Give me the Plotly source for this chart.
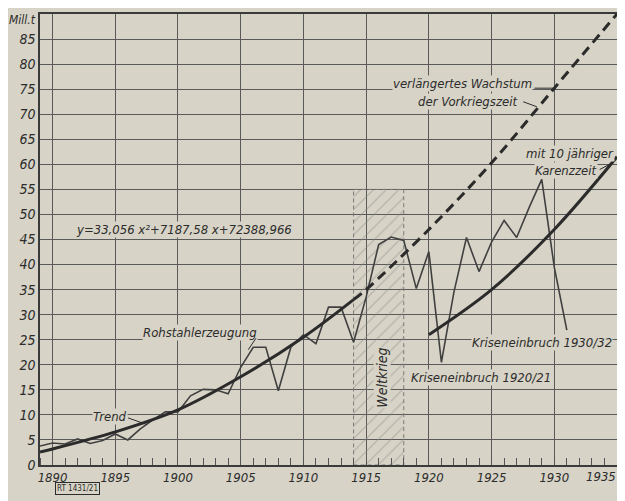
import plotly.graph_objects as go

# ---------------- data ----------------
years = list(range(1889, 1932))
steel = [3.8, 4.4, 4.2, 5.2, 4.3, 4.9, 6.2, 5.0, 7.2, 9.0,
         10.6, 10.6, 13.8, 15.1, 15.0, 14.2, 19.5, 23.5, 23.5, 14.8,
         23.5, 26.0, 24.2, 31.5, 31.5, 24.5, 33.5, 44.0, 45.5, 44.8,
         35.2, 42.6, 20.5, 34.5, 45.4, 38.6, 44.5, 48.8, 45.4, 51.4,
         57.0, 39.5, 26.9]

trend_years = [1889, 1890, 1895, 1900, 1905, 1910, 1914]
trend_vals = [2.6, 3.2, 6.6, 11.0, 17.6, 25.5, 33.0]

ext_years = [1914, 1915, 1920, 1925, 1930, 1935]
ext_vals = [33.0, 35.0, 47.0, 60.3, 75.2, 90.0]

karenz_years = [1920, 1925, 1930, 1935]
karenz_vals = [26.0, 35.0, 47.0, 61.5]

war_start, war_end, war_top = 1914, 1918, 55

x_ticks = list(range(1890, 1936, 5))
y_ticks = list(range(0, 90, 5))

# ---------------- style ----------------
BG = "#d7d3c6"
INK = "#2c2c2c"
GRID = "#5a5a5a"
FONT = "DejaVu Sans Condensed, DejaVu Sans, sans-serif"

fig = go.Figure()

# Weltkrieg hatched box
fig.add_trace(go.Scatter(
    x=[war_start, war_end, war_end, war_start, war_start],
    y=[0, 0, war_top, war_top, 0],
    mode="lines", fill="toself",
    fillcolor="rgba(0,0,0,0)",
    fillpattern=dict(shape="/", fgcolor="#858585", bgcolor="rgba(0,0,0,0)",
                     size=9, solidity=0.12),
    line=dict(color="#7a7a7a", width=1, dash="4px,3px"),
    hoverinfo="skip", showlegend=False))

# steel production
fig.add_trace(go.Scatter(x=years, y=steel, mode="lines",
                         line=dict(color="#404040", width=1.6),
                         showlegend=False))

# trend (solid)
fig.add_trace(go.Scatter(x=trend_years, y=trend_vals, mode="lines",
                         line=dict(color="#2b2b2b", width=3, shape="spline"),
                         showlegend=False))
# extended trend (dashed)
fig.add_trace(go.Scatter(x=ext_years, y=ext_vals, mode="lines",
                         line=dict(color="#2b2b2b", width=3, shape="spline",
                                   dash="10px,6px"),
                         showlegend=False))
# with 10-year lag
fig.add_trace(go.Scatter(x=karenz_years, y=karenz_vals, mode="lines",
                         line=dict(color="#2b2b2b", width=3, shape="spline"),
                         showlegend=False))

tf = dict(family=FONT, size=13, color=INK)


def note(text, x, y, xanchor="center", size=13, angle=0):
    fig.add_annotation(text="<i>%s</i>" % text, x=x, y=y, xref="x", yref="y",
                       font=dict(tf, size=size), bgcolor=BG, borderpad=0,
                       textangle=angle, xanchor=xanchor, yanchor="middle",
                       showarrow=False)


def leader(x0, y0, x1, y1):
    fig.add_annotation(text="", x=x1, y=y1, ax=x0, ay=y0, xref="x", yref="y",
                       axref="x", ayref="y", showarrow=True, arrowhead=0,
                       arrowwidth=1, arrowcolor=INK, standoff=0, startstandoff=0)


note("verlängertes Wachstum", 1928.3, 76.2, xanchor="right")
leader(1928.3, 75.2, 1929.9, 75.2)
note("der Vorkriegszeit", 1927.1, 72.5, xanchor="right")
leader(1927.4, 72.6, 1928.6, 71.5)
note("mit 10 jähriger", 1934.85, 62.2, xanchor="right")
note("Karenzzeit", 1933.5, 58.8, xanchor="right")
leader(1933.5, 58.8, 1934.4, 60.0)
note("y=33,056 x²+7187,58 x+72388,966", 1891.8, 47.0, xanchor="left")
note("Rohstahlerzeugung", 1897.1, 26.5, xanchor="left")
leader(1906.3, 25.6, 1905.6, 23.0)
note("Trend", 1896.0, 9.6, xanchor="right")
leader(1895.9, 9.5, 1897.5, 8.1)
note("Weltkrieg", 1916.3, 17.5, angle=-90, size=14)
note("Kriseneinbruch 1920/21", 1918.5, 17.5, xanchor="left")
note("Kriseneinbruch 1930/32", 1934.7, 24.5, xanchor="right")

fig.add_annotation(text="<i>Mill.t</i>", xref="paper", yref="y", x=0, y=88.8,
                   xanchor="right", xshift=-2, showarrow=False,
                   font=dict(tf, size=12))
fig.add_annotation(text="RT 1431/21", xref="paper", yref="paper",
                   x=0.026, y=-0.053, showarrow=False, yanchor="middle",
                   font=dict(family=FONT, size=8, color=INK),
                   bordercolor=INK, borderwidth=1, borderpad=1)

# last x tick label sits at the right edge: drawn right-aligned so it stays visible
last_tick = x_ticks[-1]
fig.add_annotation(text="<i>%d</i>" % last_tick, xref="x", yref="paper",
                   x=last_tick, y=0, yanchor="top", xanchor="right", xshift=1,
                   yshift=-2, showarrow=False, font=dict(tf, size=13))

# the page body adds an 8px offset, so the figure is 8px smaller on each side
fig.update_layout(
    width=617, height=493,
    margin=dict(l=32, r=8, t=6, b=36),
    paper_bgcolor=BG, plot_bgcolor=BG,
    showlegend=False,
)
fig.update_xaxes(
    range=[1889, 1935], tickvals=x_ticks,
    ticktext=["<i>%d</i>" % v if v != last_tick else "" for v in x_ticks],
    showgrid=True, gridcolor=GRID, gridwidth=1,
    showline=True, linecolor="#3a3a3a", linewidth=1.5, mirror=True,
    ticks="", tickfont=dict(tf, size=13), zeroline=False, automargin=False,
    minor=dict(dtick=1, tick0=1889, ticks="inside", ticklen=7,
               tickcolor="#555", tickwidth=1, showgrid=False),
)
fig.update_yaxes(
    range=[0, 90], tickvals=y_ticks,
    ticktext=["<i>%d</i>" % v for v in y_ticks],
    showgrid=True, gridcolor=GRID, gridwidth=1,
    showline=True, linecolor="#3a3a3a", linewidth=1.5, mirror=True,
    ticks="", tickfont=dict(tf, size=14), zeroline=True, automargin=False,
    zerolinecolor="#3a3a3a", zerolinewidth=2.5,
)

fig.write_html("out.html")
